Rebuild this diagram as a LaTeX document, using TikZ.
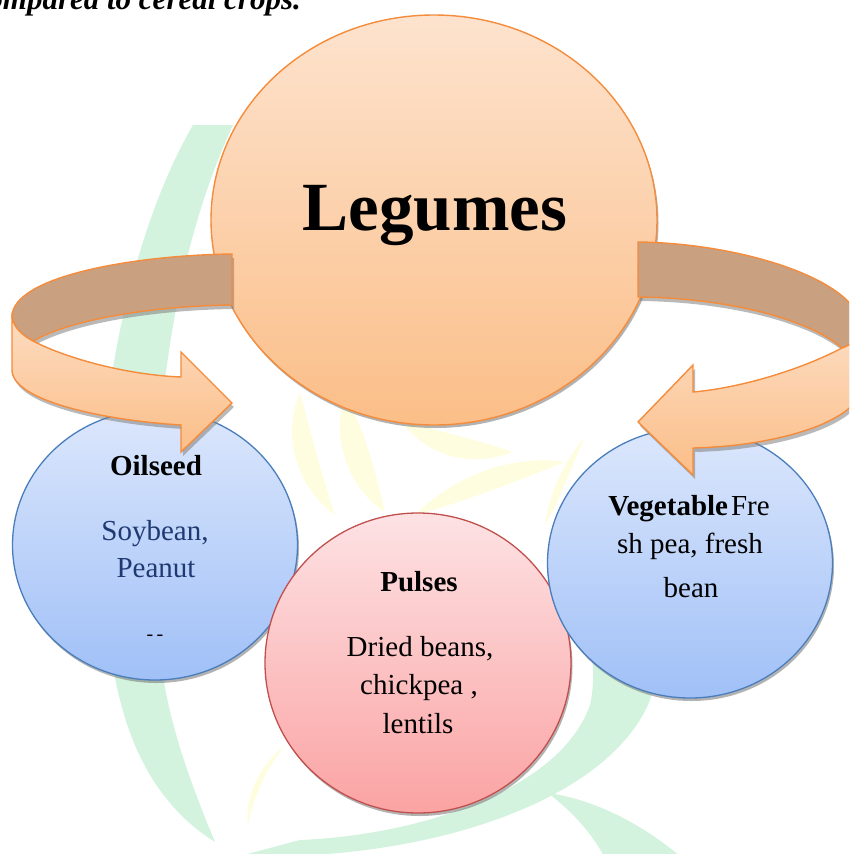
\documentclass[tikz,border=0pt]{standalone}
\usepackage{fontspec}
\setmainfont{Liberation Serif}
\usetikzlibrary{shapes.geometric,shadows}
\definecolor{orng}{HTML}{F48C3C}
\definecolor{brn}{HTML}{C9A080}
\definecolor{ptop}{HTML}{FDE3CE}
\definecolor{pbot}{HTML}{FBBE88}
\definecolor{btop}{HTML}{DCE7FC}
\definecolor{bbot}{HTML}{A0C0F7}
\definecolor{bline}{HTML}{4A7EBB}
\definecolor{rtop}{HTML}{FDE2E4}
\definecolor{rbot}{HTML}{FBA3A3}
\definecolor{rline}{HTML}{C0504D}
\definecolor{wmg}{HTML}{D3F3DF}
\definecolor{wmy}{HTML}{FFFDE0}
\definecolor{navy}{HTML}{1F3A73}
\tikzset{
  shad/.style={drop shadow={shadow xshift=1.5pt,shadow yshift=-3pt,fill=black!55,opacity=0.55}},
  bigcirc/.style={ellipse,draw=orng,line width=1.4pt,top color=ptop,bottom color=pbot,inner sep=0pt,shad},
  bluecirc/.style={ellipse,draw=bline,line width=1.3pt,top color=btop,bottom color=bbot,inner sep=0pt,shad},
  redcirc/.style={ellipse,draw=rline,line width=1.3pt,top color=rtop,bottom color=rbot,inner sep=0pt,shad},
  txt/.style={font=\fontsize{29}{34}\selectfont,anchor=base,inner sep=0pt},
  btxt/.style={txt,font=\fontsize{29}{34}\selectfont\bfseries},
  backband/.style={fill=brn,draw=orng,line width=1.4pt,line join=miter},
  frontband/.style={top color=ptop!80!pbot,bottom color=pbot,draw=orng,line width=1.4pt,line join=miter},
  shband/.style={fill=black!50,opacity=0.55}
}
\begin{document}
\begin{tikzpicture}[x=1pt,y=-1pt]
\useasboundingbox (0,0) rectangle (849,854);
\clip (0,0) rectangle (849,854);
% watermark
\fill[wmg] (193,125) .. controls (120,250) and (70,500) .. (120,700) .. controls (140,780) and (180,820) .. (215,842)
  .. controls (185,770) and (165,710) .. (160,650) .. controls (145,450) and (170,260) .. (233,125) -- cycle;
\fill[wmg] (240,856) .. controls (430,862) and (610,800) .. (650,700) .. controls (665,650) and (600,580) .. (555,545)
  .. controls (585,610) and (600,660) .. (590,705) .. controls (560,790) and (420,835) .. (300,840) -- cycle;
\fill[wmg] (548,793) .. controls (600,800) and (650,830) .. (682,858) -- (605,858) .. controls (590,830) and (570,810) .. cycle;
\fill[wmy] (300,392) .. controls (280,440) and (300,490) .. (335,515) .. controls (320,470) and (310,430) .. cycle;
\fill[wmy] (345,395) .. controls (330,440) and (350,490) .. (385,512) .. controls (375,470) and (365,430) .. cycle;
\fill[wmy] (400,420) .. controls (430,462) and (480,466) .. (512,452) .. controls (480,440) and (440,432) .. cycle;
\fill[wmy] (415,515) .. controls (460,470) and (520,455) .. (565,462) .. controls (520,480) and (470,500) .. cycle;
\fill[wmy] (285,745) .. controls (255,770) and (245,800) .. (248,825) .. controls (255,790) and (270,765) .. cycle;
\fill[wmy] (585,437) .. controls (570,470) and (560,500) .. (545,525) .. controls (550,490) and (565,460) .. cycle;
% circles
\node[bigcirc,minimum width=446pt,minimum height=410pt] (legumes) at (434,220) {};
\node[bluecirc,minimum width=285pt,minimum height=270pt] (oil) at (155,545) {};
\node[redcirc,minimum width=306pt,minimum height=300pt] (pul) at (418,663) {};
\node[bluecirc,minimum width=285pt,minimum height=270pt] (veg) at (690,563) {};
% left ribbon
\fill[shband,shift={(2,4)}] (232,254) .. controls (140,255) and (12,275) .. (12,317) .. controls (14,328) and (22,335) .. (33,341) .. controls (70,320) and (150,306) .. (232,305) -- cycle;
\path[backband] (232,254) .. controls (140,255) and (12,275) .. (12,317) .. controls (14,328) and (22,335) .. (33,341) .. controls (70,320) and (150,306) .. (232,305) -- cycle;
\fill[shband,shift={(2,4)}] (12,317) .. controls (14,328) and (22,335) .. (33,341) .. controls (70,360) and (130,375) .. (181,377) -- (181,352) -- (232,403) -- (181,452) -- (181,425) .. controls (100,420) and (12,400) .. (12,370) -- cycle;
\path[frontband] (12,317) .. controls (14,328) and (22,335) .. (33,341) .. controls (70,360) and (130,375) .. (181,377) -- (181,352) -- (232,403) -- (181,452) -- (181,425) .. controls (100,420) and (12,400) .. (12,370) -- cycle;
% right ribbon
\fill[shband,shift={(2,4)}] (638,242) .. controls (740,243) and (862,280) .. (862,330) .. controls (862,338) and (853,344) .. (842,348) .. controls (810,320) and (730,298) .. (638,297) -- cycle;
\path[backband] (638,242) .. controls (740,243) and (862,280) .. (862,330) .. controls (862,338) and (853,344) .. (842,348) .. controls (810,320) and (730,298) .. (638,297) -- cycle;
\fill[shband,shift={(2,4)}] (862,330) .. controls (862,338) and (853,344) .. (842,348) .. controls (800,370) and (740,388) .. (693,392) -- (693,365) -- (638,422) -- (693,475) -- (693,448) .. controls (780,446) and (862,420) .. (862,385) -- cycle;
\path[frontband] (862,330) .. controls (862,338) and (853,344) .. (842,348) .. controls (800,370) and (740,388) .. (693,392) -- (693,365) -- (638,422) -- (693,475) -- (693,448) .. controls (780,446) and (862,420) .. (862,385) -- cycle;
% texts
\node[anchor=base east,inner sep=0pt,font=\fontsize{31}{36}\selectfont\bfseries\itshape] (top) at (301,9) {compared to cereal crops.};
\node[anchor=base,inner sep=0pt,font=\fontsize{69}{80}\selectfont\bfseries] (tleg) at (435,230) {Legumes};
\node[btxt] (toil) at (156,475) {Oilseed};
\node[txt,text=navy] (tsoy) at (155,540) {Soybean,};
\node[txt,text=navy] (tpea) at (156,577) {Peanut};
\node[txt,font=\fontsize{20}{24}\selectfont] (tdash) at (155,640) {-\,-};
\node[btxt] (tpul) at (419,591) {Pulses};
\node[txt] (tdri) at (420,656) {Dried beans,};
\node[txt] (tchi) at (419,694) {chickpea ,};
\node[txt] (tlen) at (418,733) {lentils};
\node[txt] (tveg) at (689,515) {\textbf{Vegetable}\hspace{3pt}Fre};
\node[txt] (tsh) at (690,553) {sh pea, fresh};
\node[txt] (tbean) at (691,597) {bean};
\end{tikzpicture}
\end{document}
